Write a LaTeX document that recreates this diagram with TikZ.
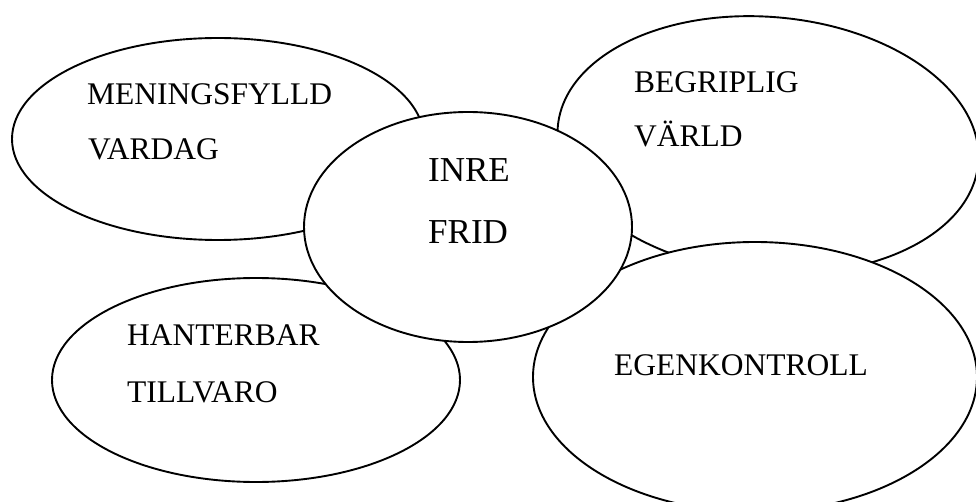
\documentclass[tikz,border=0pt]{standalone}
\usepackage{fontspec}
\setmainfont{Liberation Serif}
\usetikzlibrary{shapes.geometric}
\begin{document}
\begin{tikzpicture}[x=1pt,y=-1pt,
  bubble/.style={draw=black,fill=white,line width=1.9pt,ellipse,inner sep=0pt},
  lbl/.style={anchor=base west,inner sep=0pt,font=\fontsize{31.5}{31.5}\selectfont},
  biglbl/.style={anchor=base west,inner sep=0pt,font=\fontsize{35}{35}\selectfont}]
\useasboundingbox (0,0) rectangle (976,502);
\begin{scope}
\clip (0,0) rectangle (976,502);
\node[bubble,minimum width=412pt,minimum height=202pt] (mv) at (218,139) {};
\node[bubble,minimum width=422pt,minimum height=256pt,rotate=-5] (bv) at (768,145) {};
\node[bubble,minimum width=444pt,minimum height=270pt] (ek) at (755,377) {};
\node[bubble,minimum width=408pt,minimum height=204pt] (ht) at (256,380) {};
\node[bubble,minimum width=328pt,minimum height=230pt] (if) at (468,227) {};
\end{scope}
\node[lbl] (t1) at (87,105) {MENINGSFYLLD};
\node[lbl] (t2) at (88,160) {VARDAG};
\node[lbl] (t3) at (634,93) {BEGRIPLIG};
\node[lbl] (t4) at (634,147) {VÄRLD};
\node[lbl] (t5) at (127,345) {HANTERBAR};
\node[lbl] (t6) at (127,402) {TILLVARO};
\node[lbl] (t7) at (614,375) {EGENKONTROLL};
\node[biglbl] (t8) at (428,182) {INRE};
\node[biglbl] (t9) at (428,244) {FRID};
\end{tikzpicture}
\end{document}
